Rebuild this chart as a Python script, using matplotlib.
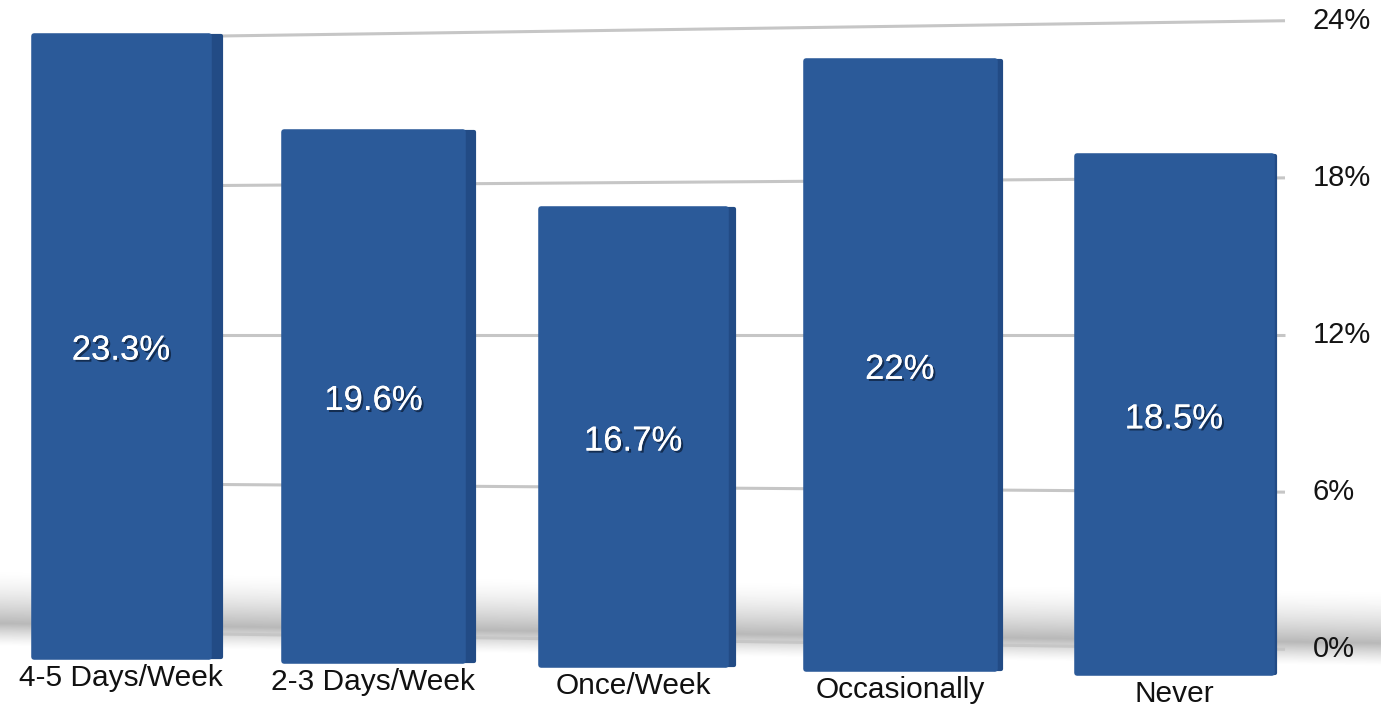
import matplotlib
matplotlib.use("Agg")
import matplotlib.pyplot as plt
import matplotlib.patheffects as pe
from matplotlib.transforms import Affine2D
import numpy as np

categories = ["4-5 Days/Week", "2-3 Days/Week", "Once/Week", "Occasionally", "Never"]
values = [23.3, 19.6, 16.7, 22.0, 18.5]
value_labels = ["23.3%", "19.6%", "16.7%", "22%", "18.5%"]
yticks = [0, 6, 12, 18, 24]
ytick_labels = ["0%", "6%", "12%", "18%", "24%"]

plt.rcParams['font.family'] = ['Liberation Sans', 'DejaVu Sans']

W, H = 1381, 706
fig = plt.figure(figsize=(W / 100, H / 100), dpi=100)

# ---------------- background / grid axes (pixel x, percent y) ----------------
axg = fig.add_axes([0, 0, 1, 1])
axg.set_xlim(0, W)
ppp = 25.55          # pixels per percent at the middle
y12 = 335            # pixel row (from top) of the 12% line
axg.set_ylim(12 - (H - y12) / ppp, 12 + y12 / ppp)
axg.axis('off')


def persp(t, xpx):
    u = (xpx - 750) / 535.0
    return 12 + (t - 12) * (1 + 0.025 * u)


# soft floor shadow as a smooth image
y_lo, y_hi = -2.0, 3.2
xs = np.linspace(0, W, 400)
ys = np.linspace(y_hi, y_lo, 300)
XX, YY = np.meshgrid(xs, ys)
o = YY - persp(0, XX)
a = np.where(o < 0.3,
             np.clip((o + 0.6) / 0.9, 0, 1) ** 1.3,
             np.clip(1 - (o - 0.3) / 2.1, 0, 1) ** 1.6)
img = np.zeros(a.shape + (4,))
img[..., :3] = 0.54
img[..., 3] = 0.6 * a
axg.imshow(img, extent=[0, W, y_lo, y_hi], aspect='auto', interpolation='bilinear',
           zorder=0.5)
axg.set_xlim(0, W)
axg.set_ylim(12 - (H - y12) / ppp, 12 + y12 / ppp)

gx = np.array([210, 1285])
for t in yticks:
    axg.plot(gx, persp(t, gx), color='#c6c6c6', lw=2.2, zorder=1,
             solid_capstyle='butt')

for t, lab in zip(yticks, ytick_labels):
    axg.text(1313, persp(t, 1285), lab, ha='left', va='center', fontsize=21,
             color='#141414', zorder=2)

# ---------------- bars axes ----------------
ax = fig.add_axes([0, 0, 1285 / W, 1])
ax.patch.set_alpha(0)
c = 0.0145


def fwd(x):
    return x + c * x ** 2


def inv(y):
    return (-1 + np.sqrt(np.maximum(1 + 4 * c * y, 0))) / (2 * c)


ax.set_xscale('function', functions=(fwd, inv))
K = 248.8
ax.set_xlim(inv(-121 / K), inv((1285 - 121) / K))
bppp = 27.3
y0px = 665
ax.set_ylim(-(H - y0px) / bppp, y0px / bppp)
ax.axis('off')

x = np.arange(len(categories))
width = 0.70
face = '#2b5a99'
sidec = '#224b85'

bars = ax.bar(x, values, width=width, color=face, edgecolor=face, lw=4,
              joinstyle='round', zorder=3)
sides = []
for i in x:
    s = 0.055 - 0.01 * i
    sb = ax.bar([i + width / 2 + s / 2 - 0.004], [values[i]], width=s,
                color=sidec, edgecolor=sidec, lw=3, joinstyle='round', zorder=2)
    sides.append(sb[0])

for i, (rect, srect, v, vl, cat) in enumerate(zip(bars, sides, values,
                                                   value_labels, categories)):
    f = 1 + 0.012 * (i - 2)
    d = 0.155 * (i - 2)
    tr = Affine2D().scale(1, f).translate(0, -d) + ax.transData
    rect.set_transform(tr)
    srect.set_transform(tr)
    ax.annotate(vl, xy=(i, v / 2), xycoords=tr, xytext=(0, -4),
                textcoords='offset pixels', ha='center', va='center',
                color='white', fontsize=25, zorder=5,
                path_effects=[pe.withSimplePatchShadow(offset=(1.5, -1.5),
                                                       shadow_rgbFace='#0a1a33',
                                                       alpha=0.7),
                              pe.Normal()])
    ax.annotate(cat, xy=(i, 0), xycoords=tr, xytext=(0, -21),
                textcoords='offset pixels', ha='center', va='center',
                color='#111111', fontsize=21.5, annotation_clip=False)

fig.savefig("out.png", dpi=100, facecolor='white')
